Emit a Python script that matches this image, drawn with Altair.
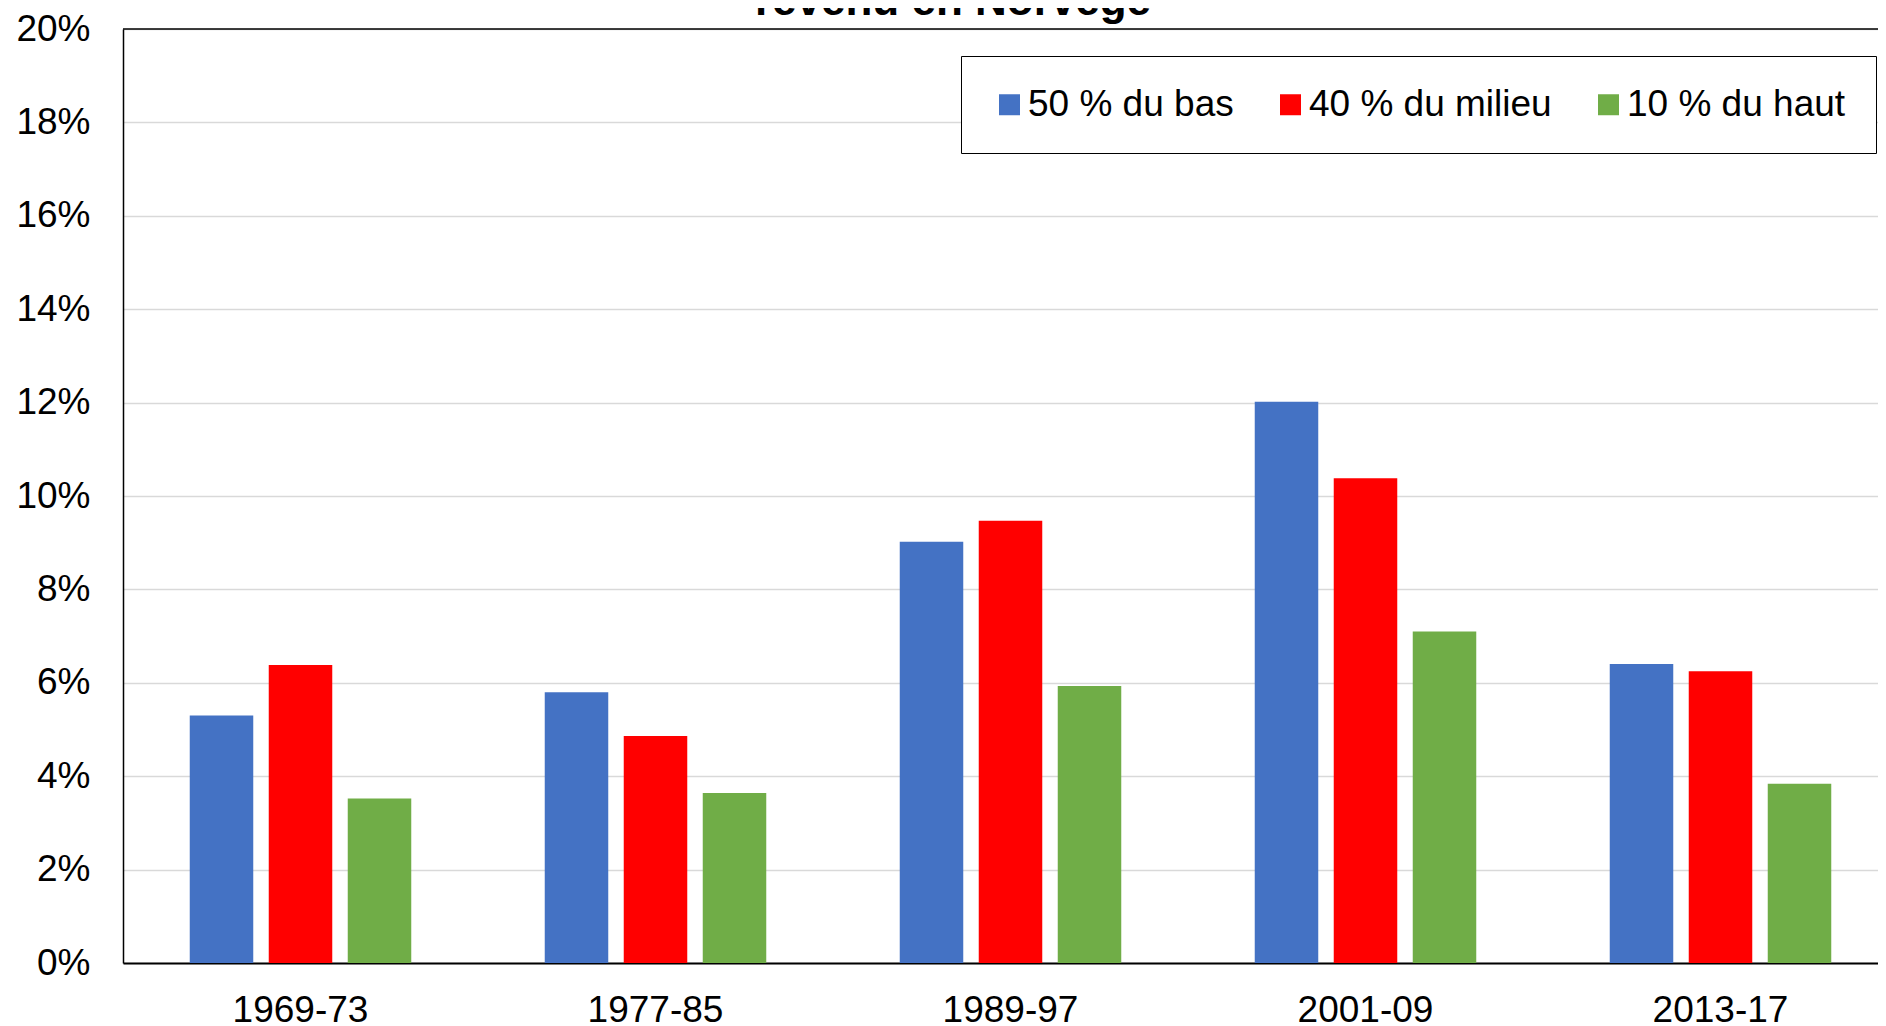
import altair as alt
import pandas as pd

periods = ["1969-73", "1977-85", "1989-97", "2001-09", "2013-17"]
groups = ["50 % du bas", "40 % du milieu", "10 % du haut"]
colors = ["#4472C4", "#FF0000", "#70AD47"]

bas = [5.30, 5.80, 9.02, 12.02, 6.40]
milieu = [6.38, 4.86, 9.47, 10.38, 6.25]
haut = [3.52, 3.64, 5.93, 7.10, 3.84]

y_ticks = [0, 2, 4, 6, 8, 10, 12, 14, 16, 18, 20]
title_text = ["revenu en Norvège"]

rows = []
for g, vals in zip(groups, [bas, milieu, haut]):
    for p, v in zip(periods, vals):
        rows.append({"period": p, "group": g, "value": v})
df = pd.DataFrame(rows)

FONT = "Liberation Sans"
W = 1755
H = 934
FS = 37

bars = alt.Chart(df).mark_bar().encode(
    x=alt.X(
        "period:N",
        sort=periods,
        scale=alt.Scale(range=[0, 1775], paddingInner=0.376, paddingOuter=0.188),
        axis=alt.Axis(
            title=None, labelAngle=0, ticks=False, grid=False,
            domainColor="black", domainWidth=2, labelPadding=29,
            labelFont=FONT, labelFontSize=FS, labelColor="black",
        ),
    ),
    xOffset=alt.XOffset(
        "group:N", sort=groups,
        scale=alt.Scale(paddingInner=0.196, paddingOuter=0),
    ),
    y=alt.Y(
        "value:Q",
        scale=alt.Scale(domain=[0, 20], nice=False),
        axis=alt.Axis(
            title=None, values=y_ticks, labelExpr="datum.value + '%'",
            ticks=False, grid=True, gridColor="#D9D9D9", gridWidth=1.5,
            domainColor="black", domainWidth=1.5, labelPadding=33,
            labelFont=FONT, labelFontSize=FS, labelColor="black",
        ),
    ),
    color=alt.Color(
        "group:N", sort=groups,
        scale=alt.Scale(domain=groups, range=colors),
        legend=alt.Legend(
            title=None, orient="none", legendX=838, legendY=27,
            direction="horizontal", symbolType="square", symbolSize=441,
            symbolStrokeWidth=0, labelFont=FONT, labelFontSize=FS,
            labelColor="black", labelOffset=0, columnPadding=38,
            padding=30, strokeColor="black", fillColor="white",
            labelLimit=600,
        ),
    ),
)

border = alt.Chart(pd.DataFrame({"a": [0]})).mark_rule(
    color="black", strokeWidth=1.5
).encode(x=alt.value(0), x2=alt.value(W), y=alt.value(0))

title = alt.Chart(pd.DataFrame({"t": title_text})).mark_text(
    font=FONT, fontSize=44, fontWeight="bold", color="black",
    align="center", baseline="alphabetic",
).encode(text="t:N", x=alt.value(830), y=alt.value(-14))

chart = alt.layer(bars, border, title).properties(
    width=W,
    height=H,
    autosize=alt.AutoSizeParams(type="none"),
    padding={"left": 115, "top": 21, "right": 0, "bottom": 63},
).configure_view(stroke=None).configure(background="white")

chart.save("out.html", embed_options={"renderer": "svg", "actions": False})
